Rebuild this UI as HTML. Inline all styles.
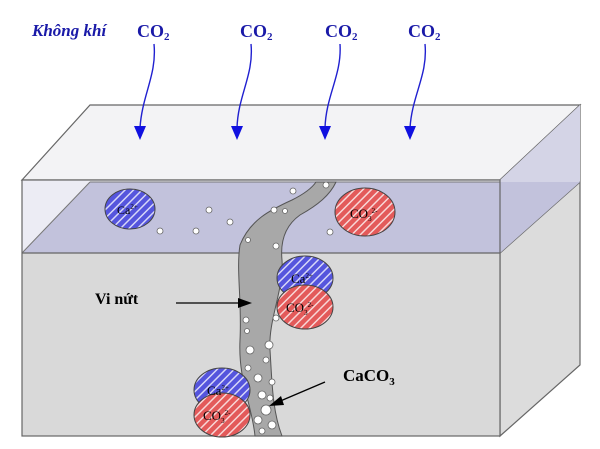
<!DOCTYPE html>
<html><head><meta charset="utf-8"><style>
body{margin:0;background:#fff}
svg{display:block}
</style></head><body>
<svg width="600" height="449" viewBox="0 0 600 449" xmlns="http://www.w3.org/2000/svg">
<defs>
<pattern id="hb" width="6" height="6" patternUnits="userSpaceOnUse" patternTransform="rotate(45)">
<rect width="6" height="6" fill="#5555dd"/><rect width="1.5" height="6" fill="#d8d8f8"/></pattern>
<pattern id="hr" width="6" height="6" patternUnits="userSpaceOnUse" patternTransform="rotate(45)">
<rect width="6" height="6" fill="#e35a5a"/><rect width="1.5" height="6" fill="#f8d8d8"/></pattern>
</defs>
<rect width="600" height="449" fill="#fff"/>
<polygon points="22,180 90,105 580,105 500,180" fill="#f3f3f5" stroke="#666" stroke-width="1.2"/>
<polygon points="500,180 580,105 580,365 500,436" fill="#dcdcdc" stroke="#666" stroke-width="1.2"/>
<polygon points="500,253 580,182 580,105 500,180" fill="#d4d4e6"/>
<line x1="500" y1="253" x2="580" y2="182" stroke="#666" stroke-width="1.2"/>
<rect x="22" y="180" width="478" height="73" fill="#ececf4"/>
<polygon points="22,253 90,182 580,182 500,253" fill="#c2c2dc"/>
<line x1="90" y1="182" x2="500" y2="182" stroke="#777" stroke-width="1"/>
<line x1="22" y1="253" x2="90" y2="182" stroke="#777" stroke-width="1"/>
<rect x="22" y="253" width="478" height="183" fill="#d9d9d9"/>
<rect x="22" y="180" width="478" height="256" fill="none" stroke="#666" stroke-width="1.2"/>
<line x1="22" y1="253" x2="500" y2="253" stroke="#666" stroke-width="1.2"/>
<polyline points="500,180 500,436" stroke="#666" fill="none"/>
<path d="M316,182 L336,182 C330,195 318,205 300,215 C286,225 280,240 282,260 C284,290 268,320 270,350 C272,380 272,410 282,436 L255,436 C252,405 238,380 240,340 C242,300 236,270 240,245 C250,220 270,210 292,200 C304,194 312,188 316,182 Z" fill="#a8a8a8" stroke="#555" stroke-width="1"/>
<g fill="#fff" stroke="#666" stroke-width="0.8">
<circle cx="209" cy="210" r="3"/><circle cx="160" cy="231" r="3"/><circle cx="196" cy="231" r="3"/><circle cx="230" cy="222" r="3"/>
<circle cx="293" cy="191" r="3"/><circle cx="285" cy="211" r="2.5"/><circle cx="274" cy="210" r="3"/><circle cx="326" cy="185" r="3"/>
<circle cx="338" cy="212" r="3"/><circle cx="330" cy="232" r="3"/><circle cx="276" cy="246" r="3"/><circle cx="248" cy="240" r="2.5"/>
<circle cx="246" cy="320" r="3"/><circle cx="247" cy="331" r="2.5"/><circle cx="276" cy="318" r="3"/><circle cx="250" cy="350" r="4"/>
<circle cx="269" cy="345" r="4"/><circle cx="266" cy="360" r="3"/><circle cx="248" cy="368" r="3"/><circle cx="258" cy="378" r="4"/>
<circle cx="272" cy="382" r="3"/><circle cx="262" cy="395" r="4"/><circle cx="266" cy="410" r="5"/><circle cx="258" cy="420" r="4"/>
<circle cx="272" cy="425" r="4"/><circle cx="262" cy="431" r="3"/><circle cx="270" cy="398" r="3"/>
</g>
<g stroke="#444" stroke-width="1">
<ellipse cx="130" cy="209" rx="25" ry="20" fill="url(#hb)"/>
<ellipse cx="365" cy="212" rx="30" ry="24" fill="url(#hr)"/>
<ellipse cx="305" cy="278" rx="28" ry="22" fill="url(#hb)"/>
<ellipse cx="305" cy="307" rx="28" ry="22" fill="url(#hr)"/>
<ellipse cx="222" cy="390" rx="28" ry="22" fill="url(#hb)"/>
<ellipse cx="222" cy="415" rx="28" ry="22" fill="url(#hr)"/>
</g>
<g font-family="Liberation Serif,serif" fill="#000" stroke="none">
<text x="117" y="214" font-size="12">Ca<tspan font-size="7" dy="-5">2+</tspan></text>
<text x="350" y="218" font-size="13">CO<tspan font-size="7" dy="3">3</tspan><tspan font-size="7" dy="-8">2-</tspan></text>
<text x="291" y="283" font-size="13">Ca<tspan font-size="7" dy="-5">2+</tspan></text>
<text x="286" y="312" font-size="13">CO<tspan font-size="7" dy="3">3</tspan><tspan font-size="7" dy="-8">2-</tspan></text>
<text x="207" y="395" font-size="13">Ca<tspan font-size="7" dy="-5">2+</tspan></text>
<text x="203" y="420" font-size="13">CO<tspan font-size="7" dy="3">3</tspan><tspan font-size="7" dy="-8">2-</tspan></text>
</g>
<text x="95" y="304" font-family="Liberation Serif,serif" font-weight="bold" font-size="16">Vi nứt</text>
<line x1="176" y1="303" x2="244" y2="303" stroke="#000" stroke-width="1.3"/>
<polygon points="252,303 238,298 238,308" fill="#000"/>
<text x="343" y="381" font-family="Liberation Serif,serif" font-weight="bold" font-size="17">CaCO<tspan font-size="11" dy="4">3</tspan></text>
<line x1="325" y1="382" x2="278" y2="402" stroke="#000" stroke-width="1.3"/>
<polygon points="269,406 281,396 284,405" fill="#000"/>
<g font-family="Liberation Serif,serif" font-weight="bold" fill="#1a1aa8">
<text x="32" y="36" font-style="italic" font-size="17">Không khí</text>
<text x="137" y="37" font-size="18">CO<tspan font-size="11" dy="3">2</tspan></text>
<text x="240" y="37" font-size="18">CO<tspan font-size="11" dy="3">2</tspan></text>
<text x="325" y="37" font-size="18">CO<tspan font-size="11" dy="3">2</tspan></text>
<text x="408" y="37" font-size="18">CO<tspan font-size="11" dy="3">2</tspan></text>
</g>
<g stroke="#2020d0" stroke-width="1.4" fill="none">
<path d="M154,44 C157,75 142,95 140,128"/>
<path d="M251,44 C254,75 238,95 237,128"/>
<path d="M340,44 C342,75 326,95 325,128"/>
<path d="M425,44 C428,75 412,95 410,128"/>
</g>
<g fill="#1010e0">
<polygon points="134,126 146,126 140,140"/>
<polygon points="231,126 243,126 237,140"/>
<polygon points="319,126 331,126 325,140"/>
<polygon points="404,126 416,126 410,140"/>
</g>
</svg>
</body></html>
